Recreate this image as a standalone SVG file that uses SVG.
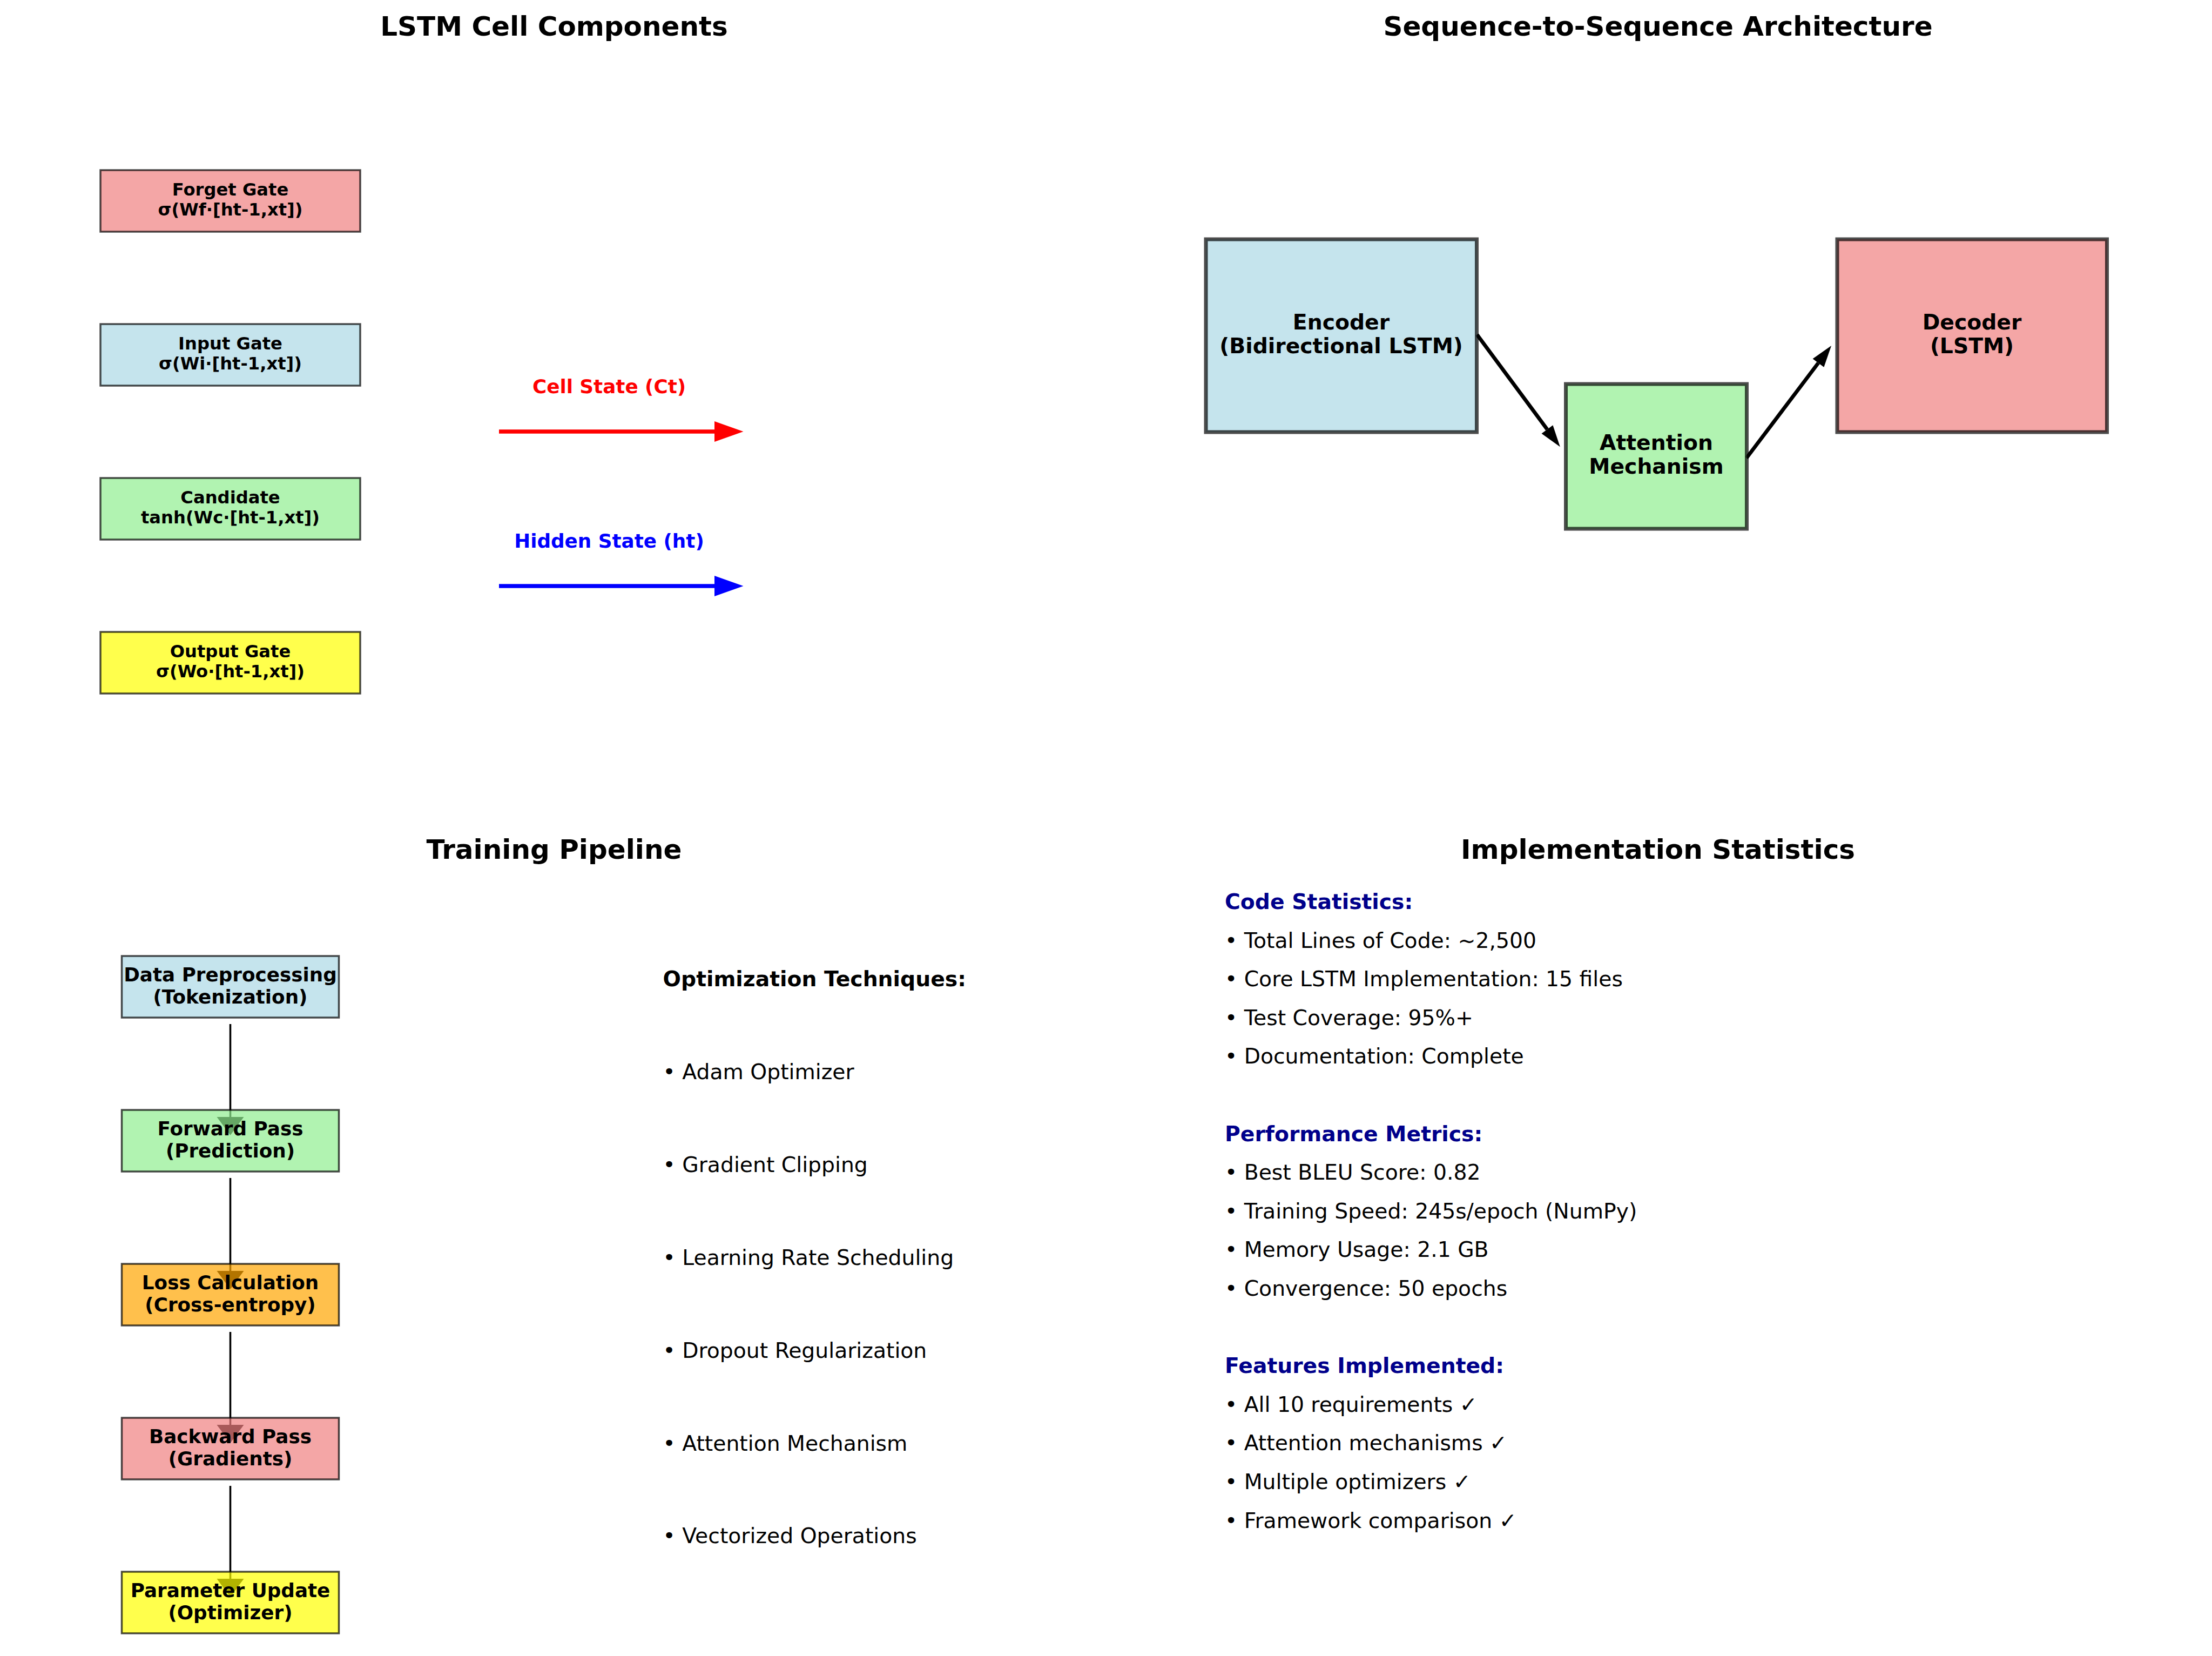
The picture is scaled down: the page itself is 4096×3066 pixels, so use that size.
<svg xmlns="http://www.w3.org/2000/svg" width="4096" height="3066" viewBox="0 0 4096 3066">
<style>
text{font-family:"DejaVu Sans","Liberation Sans",sans-serif;fill:#000}
.title{font-size:50px;font-weight:bold;text-anchor:middle}
.g{font-size:32.2px;font-weight:bold;text-anchor:middle}
.p{font-size:35.75px;font-weight:bold;text-anchor:middle}
.s{font-size:39.3px;font-weight:bold;text-anchor:middle}
.b{font-size:39.3px;font-weight:bold}
.r{font-size:39.3px}
.h{font-size:39.3px;font-weight:bold;fill:#00008b}
.box{stroke:#000;stroke-opacity:0.7;stroke-width:3.5;fill-opacity:0.7}
.big{stroke:#000;stroke-opacity:0.7;stroke-width:7;fill-opacity:0.7}
.lb{fill:#add8e6}.lg{fill:#90ee90}.lc{fill:#f08080}.ye{fill:#ffff00}.or{fill:#ffa500}
.conn{stroke:#000;stroke-width:3.5;fill:none}
.seqa{stroke:#000;stroke-width:7;fill:none}
</style>
<defs>
<marker id="ph" markerUnits="userSpaceOnUse" markerWidth="40" markerHeight="50" refX="0" refY="23" orient="auto" viewBox="0 0 31 46" overflow="visible">
<path d="M0,0 L31,23 L0,46 z" fill="#000"/>
</marker>
<marker id="sh" markerUnits="userSpaceOnUse" markerWidth="40" markerHeight="26" refX="0" refY="13" orient="auto" viewBox="0 0 40 26" overflow="visible">
<path d="M0,0 L40,13 L0,26 z" fill="#000"/>
</marker>
</defs>
<rect width="4096" height="3066" fill="#fff"/>

<text class="title" x="1026" y="66">LSTM Cell Components</text>
<text class="title" x="3070" y="66">Sequence-to-Sequence Architecture</text>
<text class="title" x="1026" y="1590">Training Pipeline</text>
<text class="title" x="3070" y="1590">Implementation Statistics</text>

<g id="connectors">
<line x1="924" y1="799" x2="1323" y2="799" stroke="#ff0000" stroke-width="7.4"/>
<path d="M1323,780 L1376.5,799 L1323,818 z" fill="#ff0000"/>
<line x1="924" y1="1085" x2="1323" y2="1085" stroke="#0000ff" stroke-width="7.4"/>
<path d="M1323,1066 L1376.5,1085 L1323,1104 z" fill="#0000ff"/>
<line class="seqa" x1="2735" y1="619.5" x2="2865" y2="795" marker-end="url(#sh)"/>
<line class="seqa" x1="3234" y1="848" x2="3367" y2="672" marker-end="url(#sh)"/>
<line class="conn" x1="426.5" y1="1896" x2="426.5" y2="2068" marker-end="url(#ph)"/>
<line class="conn" x1="426.5" y1="2181" x2="426.5" y2="2353" marker-end="url(#ph)"/>
<line class="conn" x1="426.5" y1="2466" x2="426.5" y2="2638" marker-end="url(#ph)"/>
<line class="conn" x1="426.5" y1="2751" x2="426.5" y2="2923" marker-end="url(#ph)"/>
</g>

<text x="1128" y="728" style="font-size:35.75px;font-weight:bold;text-anchor:middle;fill:#ff0000">Cell State (Ct)</text>
<text x="1128" y="1014" style="font-size:35.75px;font-weight:bold;text-anchor:middle;fill:#0000ff">Hidden State (ht)</text>

<g id="forget-gate">
<rect class="box lc" x="186" y="315" width="481" height="114"/>
<text class="g" x="426.5" y="362">Forget Gate</text>
<text class="g" x="426.5" y="398.5">σ(Wf·[ht-1,xt])</text>
</g>
<g id="input-gate">
<rect class="box lb" x="186" y="600" width="481" height="114"/>
<text class="g" x="426.5" y="647">Input Gate</text>
<text class="g" x="426.5" y="683.5">σ(Wi·[ht-1,xt])</text>
</g>
<g id="candidate">
<rect class="box lg" x="186" y="885" width="481" height="114"/>
<text class="g" x="426.5" y="932">Candidate</text>
<text class="g" x="426.5" y="968.5">tanh(Wc·[ht-1,xt])</text>
</g>
<g id="output-gate">
<rect class="box ye" x="186" y="1170" width="481" height="114"/>
<text class="g" x="426.5" y="1217">Output Gate</text>
<text class="g" x="426.5" y="1253.5">σ(Wo·[ht-1,xt])</text>
</g>

<g id="encoder">
<rect class="big lb" x="2233" y="443" width="501.5" height="357"/>
<text class="s" x="2483.5" y="610">Encoder</text>
<text class="s" x="2483.5" y="654">(Bidirectional LSTM)</text>
</g>
<g id="attention">
<rect class="big lg" x="2899.5" y="711" width="335" height="268"/>
<text class="s" x="3067" y="833">Attention</text>
<text class="s" x="3067" y="877">Mechanism</text>
</g>
<g id="decoder">
<rect class="big lc" x="3402" y="443" width="499.5" height="357"/>
<text class="s" x="3651.5" y="610">Decoder</text>
<text class="s" x="3651.5" y="654">(LSTM)</text>
</g>

<g id="data-preprocessing">
<rect class="box lb" x="225.5" y="1770" width="402" height="114"/>
<text class="p" x="426.5" y="1817">Data Preprocessing</text>
<text class="p" x="426.5" y="1857.5">(Tokenization)</text>
</g>
<g id="forward-pass">
<rect class="box lg" x="225.5" y="2055" width="402" height="114"/>
<text class="p" x="426.5" y="2102">Forward Pass</text>
<text class="p" x="426.5" y="2142.5">(Prediction)</text>
</g>
<g id="loss-calculation">
<rect class="box or" x="225.5" y="2340" width="402" height="114"/>
<text class="p" x="426.5" y="2387">Loss Calculation</text>
<text class="p" x="426.5" y="2427.5">(Cross-entropy)</text>
</g>
<g id="backward-pass">
<rect class="box lc" x="225.5" y="2625" width="402" height="114"/>
<text class="p" x="426.5" y="2672">Backward Pass</text>
<text class="p" x="426.5" y="2712.5">(Gradients)</text>
</g>
<g id="parameter-update">
<rect class="box ye" x="225.5" y="2910" width="402" height="114"/>
<text class="p" x="426.5" y="2957">Parameter Update</text>
<text class="p" x="426.5" y="2997.5">(Optimizer)</text>
</g>

<g id="optimization">
<text class="b" x="1227.6" y="1826">Optimization Techniques:</text>
<text class="r" x="1227.6" y="1998">• Adam Optimizer</text>
<text class="r" x="1227.6" y="2169.5">• Gradient Clipping</text>
<text class="r" x="1227.6" y="2341.5">• Learning Rate Scheduling</text>
<text class="r" x="1227.6" y="2513.5">• Dropout Regularization</text>
<text class="r" x="1227.6" y="2685.5">• Attention Mechanism</text>
<text class="r" x="1227.6" y="2856.5">• Vectorized Operations</text>
</g>

<g id="statistics">
<text class="h" x="2268" y="1683">Code Statistics:</text>
<text class="r" x="2268" y="1754.6">• Total Lines of Code: ~2,500</text>
<text class="r" x="2268" y="1826.2">• Core LSTM Implementation: 15 files</text>
<text class="r" x="2268" y="1897.8">• Test Coverage: 95%+</text>
<text class="r" x="2268" y="1969.4">• Documentation: Complete</text>
<text class="h" x="2268" y="2112.6">Performance Metrics:</text>
<text class="r" x="2268" y="2184.2">• Best BLEU Score: 0.82</text>
<text class="r" x="2268" y="2255.8">• Training Speed: 245s/epoch (NumPy)</text>
<text class="r" x="2268" y="2327.4">• Memory Usage: 2.1 GB</text>
<text class="r" x="2268" y="2399">• Convergence: 50 epochs</text>
<text class="h" x="2268" y="2542.2">Features Implemented:</text>
<text class="r" x="2268" y="2613.8">• All 10 requirements ✓</text>
<text class="r" x="2268" y="2685.4">• Attention mechanisms ✓</text>
<text class="r" x="2268" y="2757">• Multiple optimizers ✓</text>
<text class="r" x="2268" y="2828.6">• Framework comparison ✓</text>
</g>
</svg>
